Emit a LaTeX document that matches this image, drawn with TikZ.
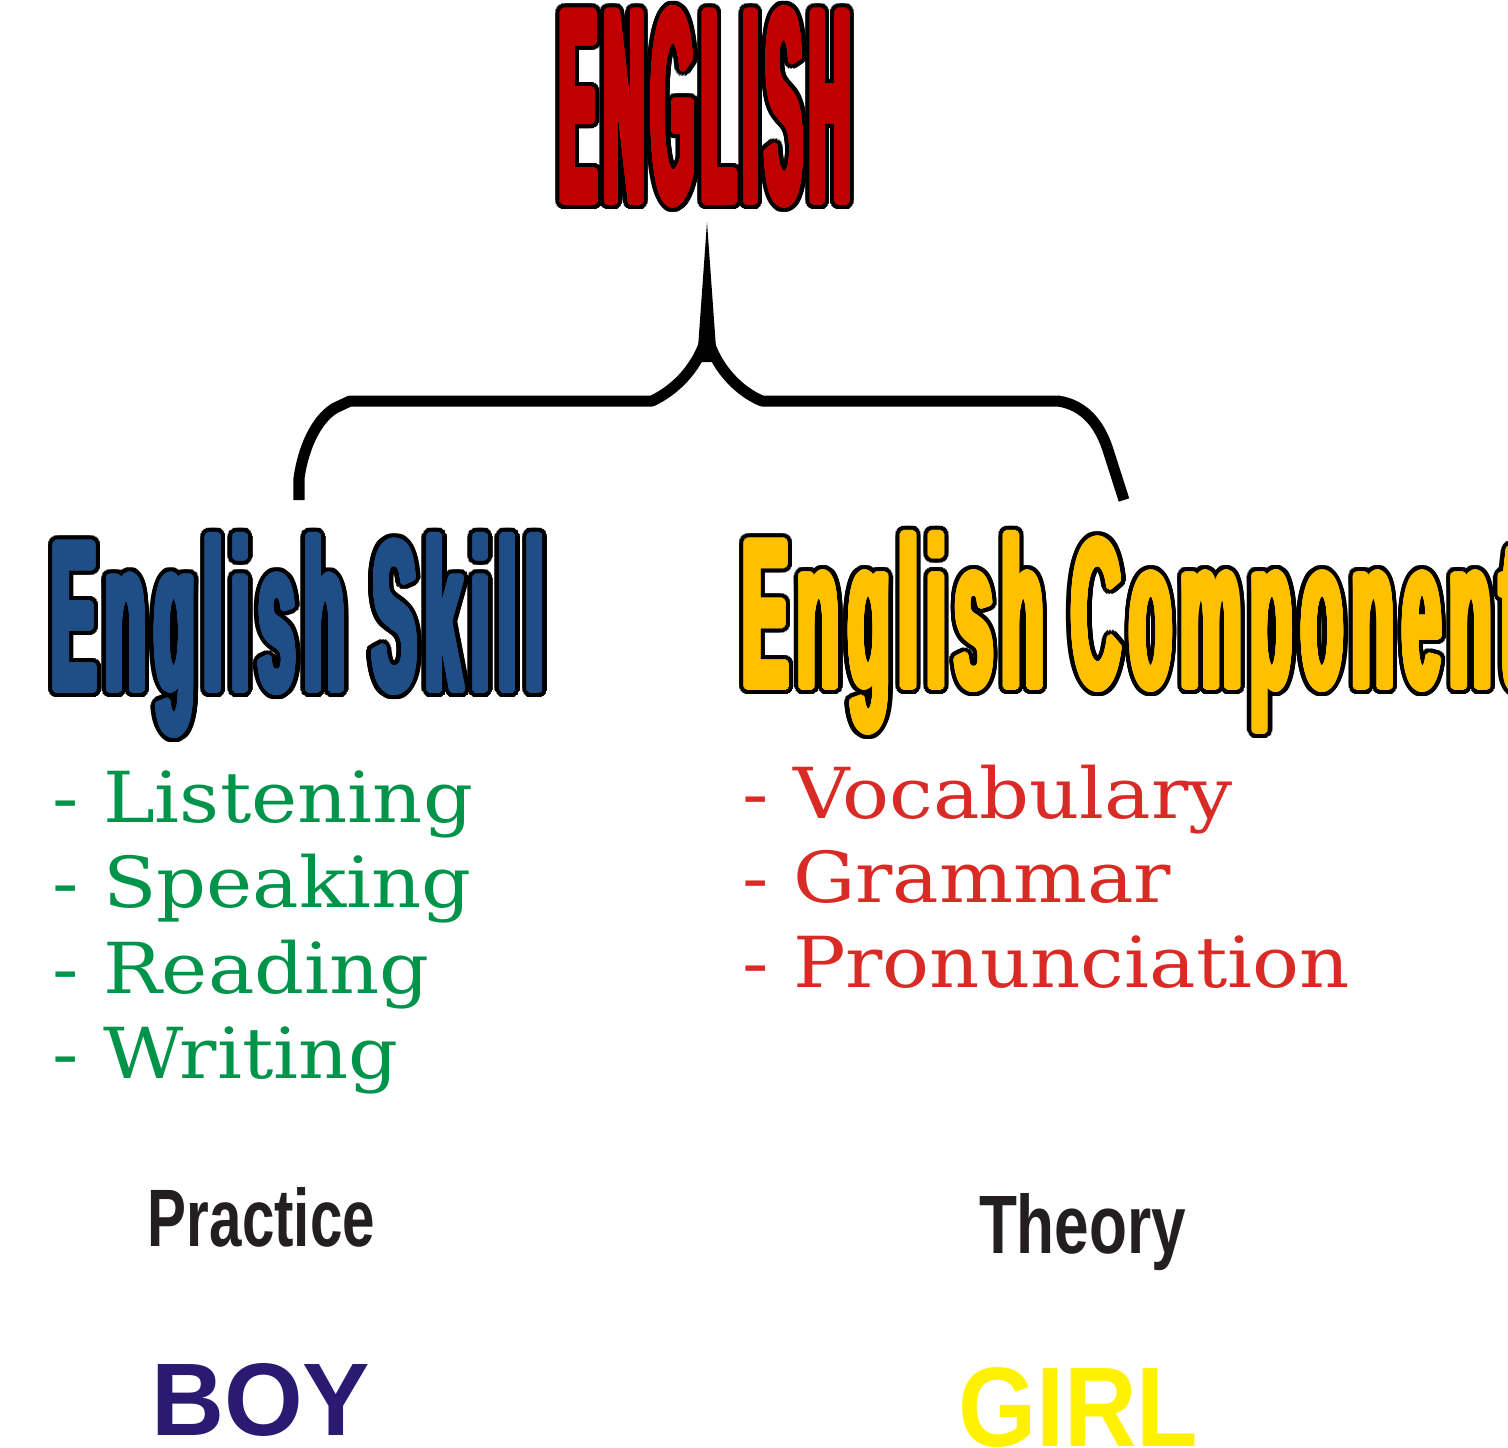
\documentclass[tikz,border=0pt]{standalone}
\usepackage{fontspec}
\setmainfont{DejaVu Serif}
\newfontfamily\headfont{Liberation Sans}
\newfontfamily\spacedfont[LetterSpace=13]{Liberation Sans}
\usepackage{graphicx}
\usepackage[copies]{contour}
\usetikzlibrary{positioning}

\definecolor{engred}{HTML}{C00000}
\definecolor{skillblue}{HTML}{1F4E87}
\definecolor{compgold}{HTML}{FFC000}
\definecolor{listgreen}{HTML}{00934A}
\definecolor{listred}{HTML}{D92B26}
\definecolor{boyblue}{HTML}{2A1A72}
\definecolor{girlyellow}{HTML}{FFF200}
\definecolor{darktext}{HTML}{231F20}

\contournumber{32}

% squeezed bold sans word: width, height, text
\newcommand{\fatword}[3]{\resizebox{#1}{#2}{\headfont\bfseries #3}}
\newcommand{\spacedword}[3]{\resizebox{#1}{#2}{\spacedfont\bfseries #3}}
% heavy outlined word: colour, width, height, text
\newcommand{\outlined}[4]{%
    \rlap{\contourlength{2.2pt}\color{black}\contour{black}{\spacedword{#2}{#3}{#4}}}%
    {\contourlength{0.9pt}\color{#1}\contour{#1}{\spacedword{#2}{#3}{#4}}}}

\begin{document}
\begin{tikzpicture}[x=0.01cm,y=-0.01cm,
    every node/.style={inner sep=0pt,outer sep=0pt,anchor=base west},
    item/.style={font=\fontsize{20}{24}\selectfont},
    brace/.style={line width=0.11cm,line join=round}]
    \useasboundingbox (0,0) rectangle (1508,1447);

    % headings
    \node (english) at (560,202) {\outlined{engred}{2.90cm}{1.93cm}{ENGLISH}};
    \node (skill) at (52,690) {\outlined{skillblue}{4.92cm}{1.54cm}{English Skill}};
    \node (comp) at (743,687) {\outlined{compgold}{7.80cm}{1.53cm}{English Component}};

    % brace
    \coordinate (tip) at (707,222);
    \coordinate (braceL) at (299,500);
    \coordinate (braceR) at (1124,500);
    \draw[brace] (braceL) -- (299,478) .. controls (303,450) and (315,420) .. (335,408)
        -- (350,401) -- (652,401) .. controls (675,390) and (695,370) .. (705,342);
    \draw[brace] (709,342) .. controls (718,370) and (740,392) .. (762,401)
        -- (1058,401) .. controls (1085,405) and (1100,425) .. (1108,450) -- (braceR);
    \fill (697,362) -- (tip) -- (717,362) -- cycle;

    % lists
    \foreach \word [count=\i] in {Listening,Speaking,Reading,Writing}
        \node[item,text=listgreen] (skill\i) at (52,{822+85.5*(\i-1)})
            {\scalebox{1.11}[1]{- \word}};
    \foreach \word [count=\i] in {Vocabulary,Grammar,Pronunciation}
        \node[item,text=listred] (comp\i) at (742,{818+84.5*(\i-1)})
            {\scalebox{1.11}[1]{- \word}};

    % bottom words
    \node[text=darktext] (practice) at (148,1246) {\fatword{2.27cm}{0.59cm}{Practice}};
    \node[text=darktext] (theory) at (979,1253) {\fatword{2.07cm}{0.60cm}{Theory}};
    \node[text=boyblue] (boy) at (151,1435) {\fatword{2.19cm}{0.72cm}{BOY}};
    \node[text=girlyellow] (girl) at (958,1446) {\fatword{2.40cm}{0.79cm}{GIRL}};
\end{tikzpicture}
\end{document}
